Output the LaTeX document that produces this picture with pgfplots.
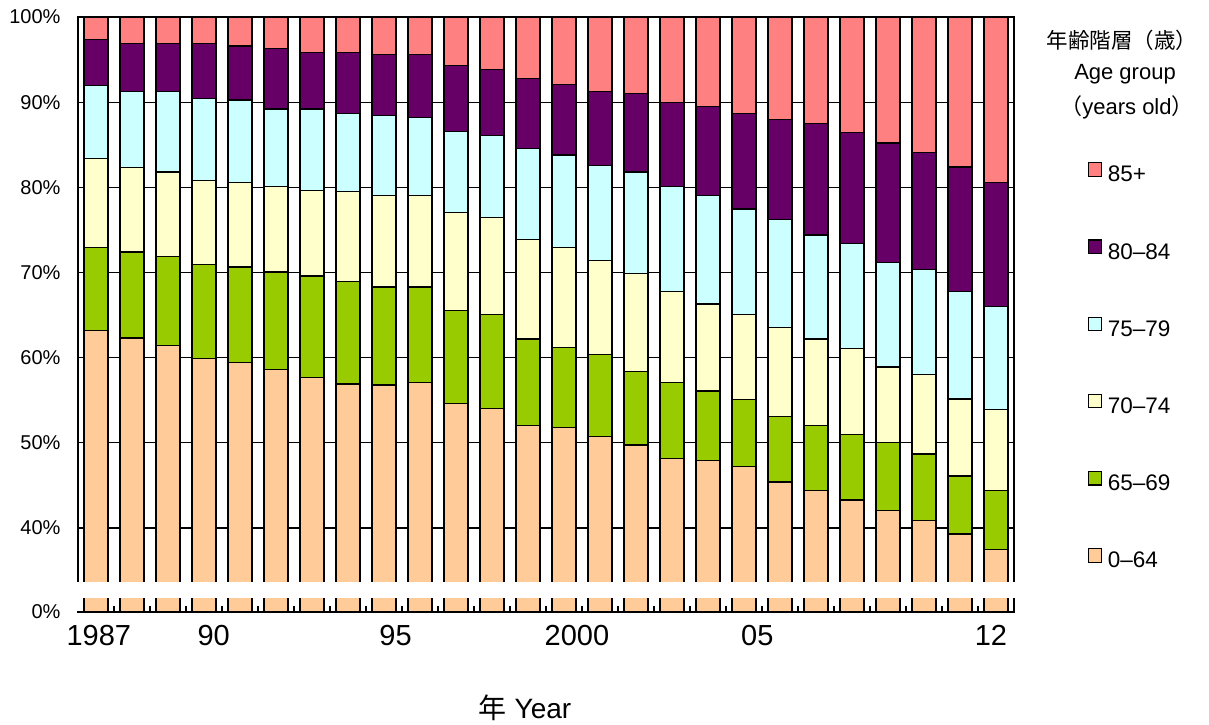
\documentclass[border=0pt]{standalone}
\usepackage{fontspec}
\setmainfont{Liberation Sans}
\newfontfamily\cjk{Noto Sans CJK JP}
\usepackage{pgfplots}
\usepackage{pgfplotstable}
\pgfplotsset{compat=1.18}
\definecolor{c85}{HTML}{FF8080}
\definecolor{c80}{HTML}{660066}
\definecolor{c75}{HTML}{CCFFFF}
\definecolor{c70}{HTML}{FFFFCC}
\definecolor{c65}{HTML}{99CC00}
\definecolor{c00}{HTML}{FFCC99}
\pgfplotstableread{
x c0 c1 c2 c3 c4 t
0 63.2 72.9 83.4 92.0 97.4 100
1 62.3 72.4 82.35 91.3 96.9 100
2 61.4 71.9 81.8 91.3 96.9 100
3 59.9 70.9 80.8 90.45 96.9 100
4 59.4 70.65 80.6 90.25 96.6 100
5 58.6 70.05 80.1 89.2 96.3 100
6 57.65 69.6 79.6 89.2 95.8 100
7 56.9 68.9 79.5 88.7 95.85 100
8 56.8 68.3 79.0 88.4 95.6 100
9 57.1 68.3 79.0 88.2 95.6 100
10 54.6 65.5 77.0 86.6 94.3 100
11 54.05 65.05 76.5 86.1 93.8 100
12 52.05 62.2 73.9 84.6 92.8 100
13 51.8 61.2 72.9 83.8 92.05 100
14 50.7 60.4 71.4 82.6 91.3 100
15 49.75 58.4 69.9 81.8 91.0 100
16 48.2 57.1 67.8 80.1 90.0 100
17 47.9 56.1 66.3 79.0 89.5 100
18 47.2 55.1 65.05 77.45 88.7 100
19 45.4 53.1 63.5 76.2 88.0 100
20 44.4 52.0 62.2 74.4 87.5 100
21 43.3 51.0 61.1 73.4 86.45 100
22 42.1 50.0 58.9 71.15 85.2 100
23 40.9 48.7 58.0 70.4 84.1 100
24 39.3 46.1 55.15 67.8 82.4 100
25 37.5 44.4 53.9 66.0 80.6 100
}\agedata
\begin{document}
\begin{tikzpicture}
\path[use as bounding box] (-78pt,-112pt) rectangle (1131pt,612pt);
\begin{axis}[
  at={(0pt,0pt)}, anchor=south west,
  scale only axis, width=936pt, height=595pt,
  xmin=-0.5, xmax=25.5, ymin=30.14, ymax=100,
  axis line style={black, line width=1.3pt},
  xtick={0.08,3.27,8.32,13.36,18.37,24.86},
  xticklabels={1987,90,95,2000,05,12},
  xticklabel style={font=\fontsize{29}{32}\selectfont, yshift=-10pt},
  minor xtick={-0.5,0.5,...,25.5},
  xtick pos=lower, ytick pos=left,
  xtick style={black, line width=1.2pt},
  major tick length=0pt, minor tick length=6pt,
  ytick={30.14,40,50,60,70,80,90,100},
  yticklabels={0\%,40\%,50\%,60\%,70\%,80\%,90\%,100\%},
  ytick style={draw=none},
  yticklabel style={font=\fontsize{20}{24}\selectfont, xshift=-14pt},
  ymajorgrids, xmajorgrids=false, xminorgrids=false,
  grid style={black, line width=1.2pt},
  xlabel={{\cjk 年} Year},
  xlabel style={at={(axis description cs:0.4776,0)}, anchor=center, yshift=-96pt,
    font=\fontsize{28}{32}\selectfont},
  legend image code/.code={\draw[#1, line width=1.2pt] (0pt,-1.5pt) rectangle (13pt,12pt);
    \path[draw=none, fill=none] (0pt,0pt) -- (17pt,0pt);},
  legend style={draw=none, fill=none, inner sep=0pt,
    at={(rel axis cs:1.0791,0.7564)}, anchor=north west,
    row sep=54pt, font=\fontsize{22.5}{24}\selectfont,
    /tikz/every even column/.append style={column sep=0pt}},
  legend cell align=left,
  every axis plot/.append style={ybar, bar shift=0pt, bar width=0.667, draw=black, line width=1.2pt},
]
\addplot[fill=c85] table[x=x, y=t] {\agedata};
\addlegendentry{85+}
\addplot[fill=c80] table[x=x, y=c4] {\agedata};
\addlegendentry{80–84}
\addplot[fill=c75] table[x=x, y=c3] {\agedata};
\addlegendentry{75–79}
\addplot[fill=c70] table[x=x, y=c2] {\agedata};
\addlegendentry{70–74}
\addplot[fill=c65] table[x=x, y=c1] {\agedata};
\addlegendentry{65–69}
\addplot[fill=c00] table[x=x, y=c0] {\agedata};
\addlegendentry{0–64}
\end{axis}
\fill[white] (-4pt,13.7pt) rectangle (940pt,30.3pt);
\fill[white] (-4pt,0.7pt) rectangle (0.8pt,13.8pt);
\node[font=\cjk\fontsize{21.5}{24}\selectfont] at (1044pt,572pt) {年齢階層（歳）};
\node[font=\fontsize{22}{24}\selectfont] at (1047pt,538pt) {Age group};
\node[font=\fontsize{22}{24}\selectfont] at (1049pt,505pt) {{\cjk （}years old{\cjk ）}};
\end{tikzpicture}
\end{document}
